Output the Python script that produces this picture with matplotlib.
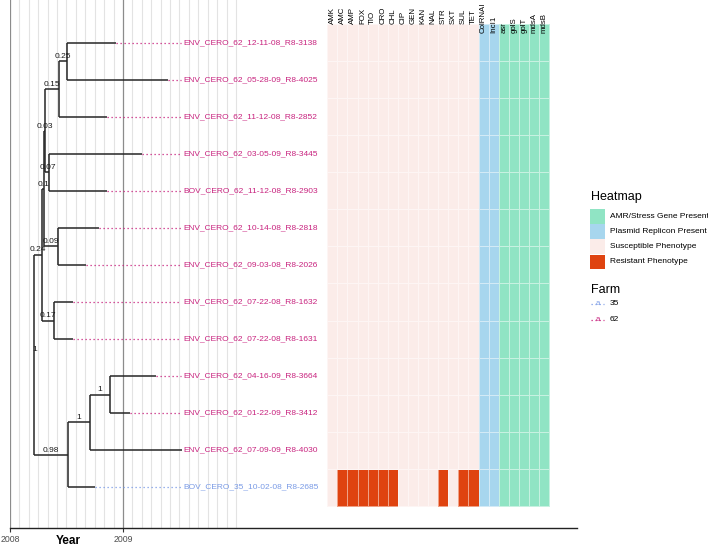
import numpy as np
import matplotlib
matplotlib.use('Agg')
import matplotlib.pyplot as plt
from matplotlib.colors import ListedColormap
from matplotlib.patches import Rectangle

plt.rcParams['font.family'] = ['Liberation Sans', 'DejaVu Sans']

# --- tree data (tips top to bottom) ---
tip_names = [
    "ENV_CERO_62_12-11-08_R8-3138", "ENV_CERO_62_05-28-09_R8-4025",
    "ENV_CERO_62_11-12-08_R8-2852", "ENV_CERO_62_03-05-09_R8-3445",
    "BOV_CERO_62_11-12-08_R8-2903", "ENV_CERO_62_10-14-08_R8-2818",
    "ENV_CERO_62_09-03-08_R8-2026", "ENV_CERO_62_07-22-08_R8-1632",
    "ENV_CERO_62_07-22-08_R8-1631", "ENV_CERO_62_04-16-09_R8-3664",
    "ENV_CERO_62_01-22-09_R8-3412", "ENV_CERO_62_07-09-09_R8-4030",
    "BOV_CERO_35_10-02-08_R8-2685",
]
tip_dates = [2008.94, 2009.40, 2008.86, 2009.17, 2008.86, 2008.79, 2008.67,
             2008.555, 2008.555, 2009.29, 2009.06, 2009.52, 2008.75]
tip_farm = ["62"] * 12 + ["35"]
tip_parent = [18, 18, 17, 19, 19, 20, 20, 21, 21, 24, 24, 23, 22]

# internal nodes 13..24
node_dates = [2008.215, 2008.281, 2008.305, 2008.314, 2008.436, 2008.507,
              2008.348, 2008.422, 2008.392, 2008.511, 2008.705, 2008.888]
node_parent = [None, 13, 14, 15, 16, 17, 16, 15, 14, 13, 22, 23]
node_support = ["1", "0.24", "0.1", "0.03", "0.15", "0.25", "0.07", "0.09",
                "0.17", "0.98", "1", "1"]

# --- heatmap data ---
pheno_cols = ["AMK", "AMC", "AMP", "FOX", "TIO", "CRO", "CHL", "CIP", "GEN",
              "KAN", "NAL", "STR", "SXT", "SUL", "TET"]
plasmid_cols = ["ColRNAI", "IncI1"]
gene_cols = ["asr", "golS", "golT", "mdsA", "mdsB"]
# R = resistant, S = susceptible (rows top to bottom)
pheno = ["SSSSSSSSSSSSSSS"] * 12 + ["SRRRRRRSSSSRSRR"]
plasmid = ["11"] * 13
genes = ["11111"] * 13

farm_colors = {"62": "#C8237F", "35": "#7A9BE6"}
c_pink, c_red, c_blue, c_green = "#FBECE9", "#DF4310", "#A7D6EE", "#90E4C4"

fig = plt.figure(figsize=(7.08, 5.49), dpi=100)
ax = fig.add_axes([10 / 708, 21 / 549, 567 / 708, 528 / 549])
ax.set_xlim(2008, 2008 + 567 / 113)
ax.set_ylim(13 - 485 / 37, 13 + 43 / 37)

# grid
ax.set_xticks([2008, 2009])
ax.set_xticks(np.arange(2008, 2010.01, 1 / 12), minor=True)
ax.grid(which='minor', axis='x', color='#e3e3e3', lw=0.8)
ax.grid(which='major', axis='x', color='#8c8c8c', lw=0.9)
ax.tick_params(axis='x', which='minor', length=0)
ax.tick_params(axis='x', which='major', length=3, color='#333333',
               labelsize=6.3, labelcolor='#4d4d4d', pad=2)
ax.set_yticks([])
for s in ['left', 'right', 'top']:
    ax.spines[s].set_visible(False)
ax.spines['bottom'].set_color('#222222')
ax.spines['bottom'].set_linewidth(1.0)
ax.set_axisbelow(True)
ax.set_xlabel("Year", fontsize=8.5, fontweight='bold')
ax.xaxis.set_label_coords(58 / 567, -7 / 528)

# layout of tree
n_tip = len(tip_names)
xs = list(tip_dates) + list(node_dates)
parents = list(tip_parent) + list(node_parent)
ys = [float(n_tip - i) for i in range(n_tip)] + [0.0] * len(node_dates)
children = {k: [] for k in range(n_tip, len(xs))}
for k, p in enumerate(parents):
    if p is not None:
        children[p].append(k)
for k in range(len(xs) - 1, n_tip - 1, -1):
    ys[k] = np.mean([ys[c] for c in children[k]])

lc = '#262626'
for k, p in enumerate(parents):
    if p is not None:
        ax.plot([xs[p], xs[k]], [ys[k], ys[k]], color=lc, lw=1.1,
                solid_capstyle='butt', zorder=3)
for k, ch in children.items():
    cy = [ys[c] for c in ch]
    ax.plot([xs[k], xs[k]], [min(cy), max(cy)], color=lc, lw=1.1,
            solid_capstyle='butt', zorder=3)
for j, lab in enumerate(node_support):
    k = n_tip + j
    p = parents[k]
    lx = xs[k] if p is None else (xs[p] + xs[k]) / 2
    ax.text(lx, ys[k] + 0.03, lab, fontsize=6, ha='center', va='bottom',
            color='#1a1a1a', zorder=4)

# tip labels with dotted connectors
lab_x = 2009.531
for i in range(n_tip):
    col = farm_colors[tip_farm[i]]
    if tip_dates[i] < lab_x - 0.02:
        ax.plot([tip_dates[i], lab_x - 0.017], [ys[i], ys[i]], color=col,
                lw=0.9, ls=(0, (1, 2.2)), zorder=2)
    ax.text(lab_x, ys[i], tip_names[i], color=col, fontsize=6,
            va='center', ha='left', zorder=4)

# heatmap
hm_x0 = 2008 + 317.3 / 113
hm_w = 10.08 / 113
all_cols = pheno_cols + plasmid_cols + gene_cols
Z = np.zeros((n_tip, len(all_cols)))
for i in range(n_tip):
    r = n_tip - 1 - i
    for c, v in enumerate(pheno[i]):
        Z[r, c] = 1 if v == 'R' else 0
    for c, v in enumerate(plasmid[i]):
        Z[r, len(pheno_cols) + c] = 2 if v == '1' else 0
    for c, v in enumerate(genes[i]):
        Z[r, len(pheno_cols) + len(plasmid_cols) + c] = 3 if v == '1' else 0
xe = hm_x0 + np.arange(len(all_cols) + 1) * hm_w
ye = np.arange(n_tip + 1) + 0.5
cmap = ListedColormap([c_pink, c_red, c_blue, c_green])
ax.pcolormesh(xe, ye, Z, cmap=cmap, vmin=-0.5, vmax=3.5,
              edgecolors=(1, 1, 1, 0.5), linewidth=0.4, zorder=3)
for c, name in enumerate(all_cols):
    yb = n_tip + 0.5 if c < len(pheno_cols) else n_tip + 0.27
    ax.text(xe[c] + hm_w / 2, yb, name, rotation=90, ha='center',
            va='bottom', fontsize=5.7, clip_on=False, zorder=5)

# legends drawn in pixel space
lg = fig.add_axes([0, 0, 1, 1], zorder=5)
lg.set_xlim(0, 708)
lg.set_ylim(549, 0)
lg.axis('off')
lg.patch.set_alpha(0)

hm_labels = ["AMR/Stress Gene Present", "Plasmid Replicon Present",
             "Susceptible Phenotype", "Resistant Phenotype"]
hm_colors = [c_green, c_blue, c_pink, c_red]
lg.text(591, 197, "Heatmap", fontsize=9, va='center', ha='left')
for k, (lab, col) in enumerate(zip(hm_labels, hm_colors)):
    y0 = 209 + 15.2 * k
    lg.add_patch(Rectangle((590, y0), 15, 14.6, color=col, lw=0))
    lg.text(610, y0 + 7.3, lab, fontsize=6, va='center', ha='left')

lg.text(591, 290, "Farm", fontsize=9, va='center', ha='left')
for k, f in enumerate(["35", "62"]):
    yy = 303.5 + 16 * k
    lg.plot([591, 604], [yy, yy], color=farm_colors[f], lw=0.9,
            ls=(0, (1, 2.2)))
    lg.text(597.5, yy, "a", color=farm_colors[f], fontsize=5.5,
            ha='center', va='center')
    lg.text(610, yy, f, fontsize=6, va='center', ha='left')

fig.savefig("out.png", dpi=100)
